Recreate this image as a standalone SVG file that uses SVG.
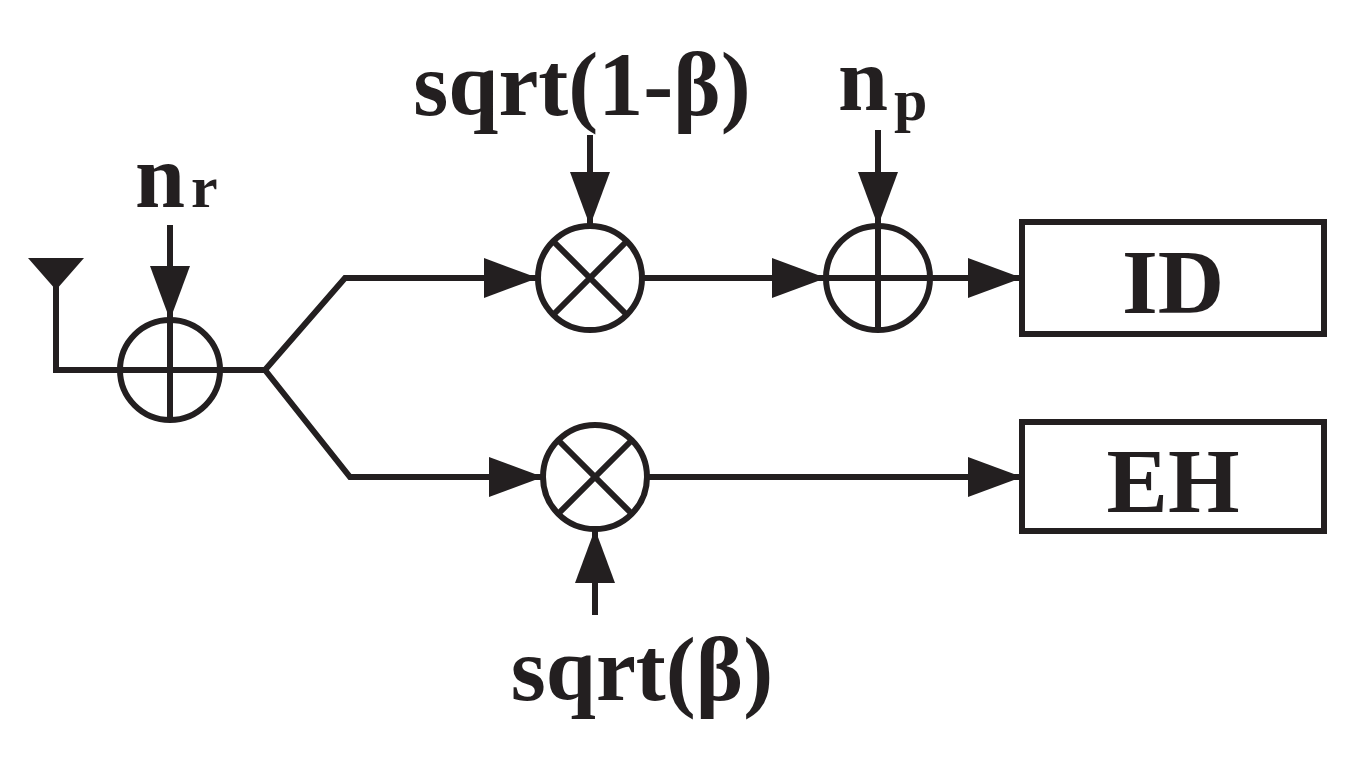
<svg xmlns="http://www.w3.org/2000/svg" width="1370" height="764" viewBox="0 0 1370 764">
<style>
.l{stroke:#231f20;stroke-width:6;fill:none}
.t{font-family:"Liberation Serif",serif;font-weight:bold;fill:#231f20}
</style>
<defs><marker id="a" markerWidth="10" markerHeight="10" refX="10" refY="5" orient="auto" markerUnits="userSpaceOnUse" viewBox="0 0 10 10"><path d="M0,0L10,5L0,10z" fill="#231f20"/></marker>
<marker id="b" viewBox="0 0 10 10" refX="10" refY="5" markerWidth="54" markerHeight="40" orient="auto" markerUnits="userSpaceOnUse" preserveAspectRatio="none"><path d="M0,0L10,5L0,10z" fill="#231f20"/></marker></defs>
<rect width="1370" height="764" fill="#fff"/>
<g id="antenna"><path d="M28,258H84L56,290Z" fill="#231f20"/></g>
<g id="sum1"><circle class="l" cx="170" cy="370" r="50"/><path class="l" d="M120,370H220M170,320V420"/></g>
<g id="mul1"><circle class="l" cx="590" cy="278" r="52"/><path class="l" d="M553,241L627,315M627,241L553,315"/></g>
<g id="sum2"><circle class="l" cx="878" cy="278" r="52"/><path class="l" d="M826,278H930M878,226V330"/></g>
<g id="mul2"><circle class="l" cx="595" cy="477" r="52"/><path class="l" d="M558,440L632,514M632,440L558,514"/></g>
<g id="ID"><rect class="l" x="1022" y="222" width="302" height="112"/><text class="t" x="1173" y="313" font-size="92" text-anchor="middle">ID</text></g>
<g id="EH"><rect class="l" x="1022" y="422" width="302" height="109"/><text class="t" x="1173" y="512" font-size="92" text-anchor="middle">EH</text></g>
<g id="labels">
<text class="t" x="135" y="207" font-size="90">n<tspan font-size="60" dx="6">r</tspan></text>
<text class="t" x="582" y="115" font-size="90" text-anchor="middle">sqrt(1-β)</text>
<text class="t" x="838" y="110" font-size="90">n<tspan font-size="60" dx="6" dy="10">p</tspan></text>
<text class="t" x="642" y="700" font-size="90" text-anchor="middle">sqrt(β)</text>
</g>
<g id="connectors">
<path class="l" d="M56,285V370H120"/>
<path class="l" d="M170,225V320" marker-end="url(#b)"/>
<path class="l" d="M220,370H265L345,278H538" marker-end="url(#b)"/>
<path class="l" d="M265,370L350,477H543" marker-end="url(#b)"/>
<path class="l" d="M590,135V226" marker-end="url(#b)"/>
<path class="l" d="M642,278H826" marker-end="url(#b)"/>
<path class="l" d="M878,130V226" marker-end="url(#b)"/>
<path class="l" d="M930,278H1022" marker-end="url(#b)"/>
<path class="l" d="M647,477H1022" marker-end="url(#b)"/>
<path class="l" d="M595,615V529" marker-end="url(#b)"/>
</g>
</svg>
